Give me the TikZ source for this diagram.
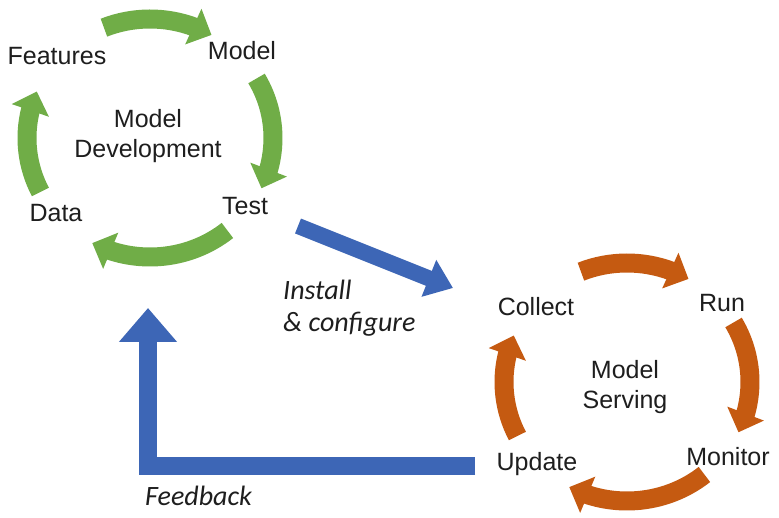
\documentclass[tikz,border=0pt]{standalone}
\usepackage{fontspec}
\setmainfont{Liberation Sans}
\newfontfamily\notefont{Carlito}
\usepackage{tikz}
\usetikzlibrary{arrows.meta,bending}
\definecolor{cgreen}{HTML}{70AD47}
\definecolor{corange}{HTML}{C55A11}
\definecolor{cblue}{HTML}{3D66B6}
\definecolor{cink}{HTML}{1E1E1E}
\tikzset{cyc/.style={line width=19pt,-{Triangle[width=38pt,length=20pt]}},
  flow/.style={cblue,line width=16pt,-{Triangle[width=38pt,length=26pt]}},
  lbl/.style={text=cink,font=\fontsize{25}{30}\selectfont,inner sep=0pt},
  note/.style={text=cink,font=\notefont\itshape\fontsize{28}{32}\selectfont,inner sep=0pt}}

\begin{document}
\begin{tikzpicture}[x=1pt,y=1pt]
\fill[white] (0,0) rectangle (779,517);
\useasboundingbox (0,0) rectangle (779,517);
\coordinate (dev) at (150,379);
\coordinate (srv) at (627,135);
% the two cycles
\foreach \c/\col in {dev/cgreen,srv/corange}{
  \foreach \a/\b in {112/60,30/-25,-51/-118,-153/-203}
    \draw[cyc,\col] ([shift={(\a:123 and 119)}]\c) arc[start angle=\a,end angle=\b,x radius=123,y radius=119];
}
\node[lbl,anchor=base] (feat) at (57,452) {Features};
\node[lbl,anchor=base] (model) at (242,457) {Model};
\node[lbl,anchor=base] (test) at (245,302) {Test};
\node[lbl,anchor=base] (data) at (56,295) {Data};
\node[lbl,align=center] (devlbl) at (148,381) {Model\\Development};
\node[lbl,anchor=base] (collect) at (536,201) {Collect};
\node[lbl,anchor=base] (run) at (722,205) {Run};
\node[lbl,anchor=base] (monitor) at (728,52) {Monitor};
\node[lbl,anchor=base] (update) at (537,47) {Update};
\node[lbl,align=center] (srvlbl) at (625,130) {Model\\Serving};
% hand-over arrows
\coordinate (inst0) at (298,291);
\coordinate (inst1) at (453,229);
\draw[flow] (inst0) -- (inst1);
\coordinate (fb0) at (475,51);
\coordinate (fb1) at (148,209);
\draw[flow,line width=18pt,-{Triangle[width=56pt,length=34pt]}] (fb0) -| (fb1);
\node[note,align=left,anchor=west] (instlbl) at (283,209) {Install\\\& configure};
\node[note,anchor=base west] (fblbl) at (145,12) {Feedback};
\end{tikzpicture}
\end{document}
